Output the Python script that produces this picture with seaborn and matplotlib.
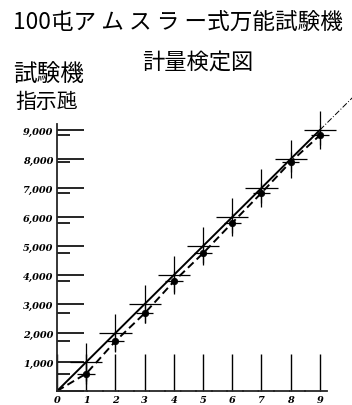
import numpy as np
import pandas as pd
import matplotlib
matplotlib.use('Agg')
import matplotlib.pyplot as plt
import seaborn as sns

# Daten
belastung = [0, 1, 2, 3, 4, 5, 6, 7, 8, 9]
soll_wert = [0, 1000, 2000, 3000, 4000, 5000, 6000, 7000, 8000, 9000]
anzeige_wert = [0, 600, 1720, 2680, 3780, 4750, 5800, 6830, 7900, 8820]
verlaengerung_x = [9, 10.15]
verlaengerung_y = [9000, 10150]

x_labels = ['0', '1', '2', '3', '4', '5', '6', '7', '8', '9']
y_labels = ['', '1,000', '2,000', '3,000', '4,000', '5,000',
            '6,000', '7,000', '8,000', '9,000']

sns.set_style('white')
plt.rcParams['font.family'] = ['Noto Sans CJK JP', 'DejaVu Sans']

df = pd.DataFrame({'x': belastung, 'soll': soll_wert, 'ist': anzeige_wert})

fig = plt.figure(figsize=(3.52, 4.06), dpi=100)
ax = fig.add_axes([0.1455, 0.0202, 0.8545, 0.750])

# Linien
sns.lineplot(data=df, x='x', y='soll', color='black', lw=1.4, ax=ax)
ax.plot(verlaengerung_x, verlaengerung_y, color='black', lw=0.7, ls=(0, (6, 2, 1, 2)))
sns.lineplot(data=df, x='x', y='ist', color='black', lw=1.4, ax=ax)
ax.lines[-1].set_linestyle((0, (4, 2.2)))

# Kreuze
ax.errorbar(df['x'][1:], df['soll'][1:], xerr=0.55, yerr=650,
            fmt='none', ecolor='black', elinewidth=0.9)
ax.errorbar(df['x'][1:], df['ist'][1:], xerr=0.3, yerr=350,
            fmt='none', ecolor='black', elinewidth=0.9)
sns.scatterplot(data=df.iloc[1:], x='x', y='ist', color='black', s=22,
                edgecolor='black', linewidth=0.5, ax=ax, zorder=5)

ax.set_xlim(-0.2, 10.1)
ax.set_ylim(-200, 10300)

for s in ['top', 'right']:
    ax.spines[s].set_visible(False)
ax.spines['left'].set_position(('data', 0))
ax.spines['bottom'].set_position(('data', 0))
ax.spines['left'].set_bounds(0, 9200)
ax.spines['bottom'].set_bounds(0, 9.25)
ax.spines['left'].set_linewidth(1.3)
ax.spines['bottom'].set_linewidth(1.3)
ax.spines['bottom'].set_linestyle((0, (8, 0.6)))

ax.set_xticks(belastung)
ax.set_xticklabels(x_labels)
ax.set_yticks(soll_wert)
ax.set_yticklabels(y_labels)
ax.set_yticks(anzeige_wert[1:], minor=True)

ax.tick_params(axis='x', which='major', direction='in', length=27, width=1.0,
               pad=3, color='black', bottom=True)
ax.tick_params(axis='y', which='major', direction='in', length=19.5, width=1.2,
               pad=2.5, color='black', left=True)
ax.tick_params(axis='y', which='minor', direction='in', length=9, width=1.2,
               color='black', left=True)

for lab in ax.get_xticklabels() + ax.get_yticklabels():
    lab.set_fontfamily('DejaVu Serif')
    lab.set_fontstyle('italic')
    lab.set_fontweight('bold')
    lab.set_fontsize(7.0)
    lab.set_color('black')

ax.set_xlabel('')
ax.set_ylabel('')

fig.text(0.506, 0.946, '100屯ア ム ス ラ ー式万能試験機', ha='center', va='center',
         fontsize=16.3, color='black')
fig.text(0.5625, 0.847, '計量検定図', ha='center', va='center',
         fontsize=16, color='black')
fig.text(0.037, 0.816, '試験機', ha='left', va='center', fontsize=17, color='black')
fig.text(0.043, 0.750, '指示瓲', ha='left', va='center', fontsize=15, color='black')

fig.savefig('out.png', dpi=100, facecolor='white')
